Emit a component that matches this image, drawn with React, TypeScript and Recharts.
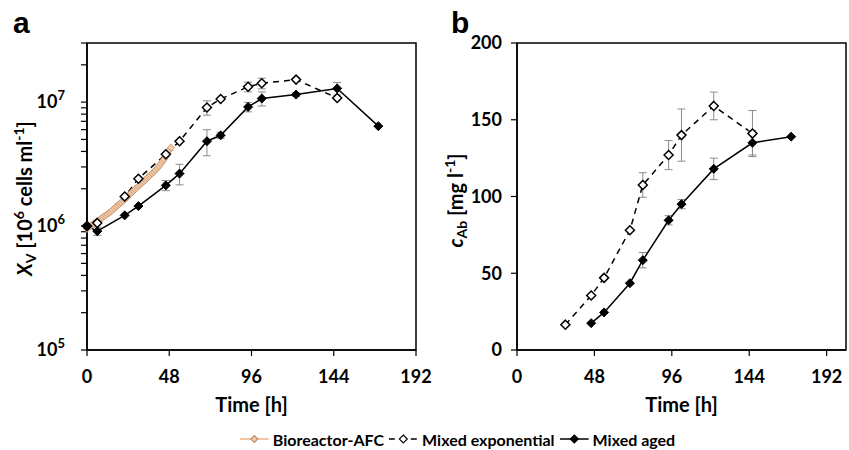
import React from 'react';
import { ErrorBar, Line, LineChart, ReferenceArea, XAxis, YAxis } from 'recharts';

// time axis [h]
const timeTicks = [0, 48, 96, 144, 192];

// panel a: viable cell density, in 10^6 cells/ml
const afcTime = [
  0, 1, 2, 3, 4, 5, 6, 7, 8, 9, 10, 11, 12, 13, 14, 15, 16, 17, 18, 19, 20, 21, 22, 23, 24, 25,
  26, 27, 28, 29, 30, 31, 32, 33, 34, 35, 36, 37, 38, 39, 40, 41, 42, 43, 44, 45, 46, 47, 48, 49,
];
const afcXv = [
  0.95, 0.98, 1.0, 1.03, 1.05, 1.07, 1.09, 1.11, 1.14, 1.17, 1.2, 1.22, 1.25, 1.28, 1.31, 1.35,
  1.39, 1.43, 1.47, 1.51, 1.55, 1.6, 1.64, 1.69, 1.75, 1.8, 1.86, 1.92, 1.98, 2.04, 2.1, 2.16,
  2.22, 2.29, 2.36, 2.43, 2.5, 2.58, 2.66, 2.74, 2.83, 2.93, 3.05, 3.18, 3.32, 3.47, 3.63, 3.85,
  4.1, 4.3,
];

const expTimeA = [0, 6, 22, 30, 46, 54, 70, 78, 94, 102, 122, 146];
const expXv = [1.0, 1.06, 1.73, 2.41, 3.8, 4.83, 9.05, 10.6, 13.3, 14.2, 15.2, 10.8];
const expXvErr = [0, 0, 0, 0, 0, 0, 1.2, 0, 1.2, 1.4, 0.4, 0];

const agedTimeA = [0, 6, 22, 30, 46, 54, 70, 78, 94, 102, 122, 146, 170];
const agedXv = [1.0, 0.91, 1.22, 1.45, 2.13, 2.65, 4.84, 5.4, 9.15, 10.7, 11.5, 12.9, 6.4];
const agedXvErr = [0, 0.07, 0, 0, 0.2, 0.5, 1.15, 0.3, 0.8, 1.4, 0.4, 1.5, 0];

const xvTicks = [
  1e5, 2e5, 3e5, 4e5, 5e5, 6e5, 7e5, 8e5, 9e5,
  1e6, 2e6, 3e6, 4e6, 5e6, 6e6, 7e6, 8e6, 9e6,
  1e7, 2e7, 3e7,
];

// panel b: antibody concentration [mg/l]
const expTimeB = [30, 46, 54, 70, 78, 94, 102, 122, 146];
const expCab = [16.5, 35.5, 47, 78, 107.5, 127, 140, 159, 141];
const expCabErr = [0, 0, 0, 0, 8, 9.5, 17, 9, 15];

const agedTimeB = [46, 54, 70, 78, 94, 102, 122, 146, 170];
const agedCab = [17.5, 24.5, 43.5, 58.5, 84.5, 95, 118, 135, 139];
const agedCabErr = [0, 0, 0, 5, 3, 3, 7, 8, 0];

const cabTicks = [0, 50, 100, 150, 200];

const FONT = 'Lato, "Open Sans", sans-serif';
const AFC_LINE = '#F4B183';
const AFC_FILL = '#F6C9A4';
const AFC_EDGE = '#B98E68';
const ERR = '#8C8C8C';

const toRows = (t: number[], v: number[], e: number[] | null, k = 1) =>
  t.map((time, i) => ({ time, value: v[i] * k, err: e ? e[i] * k : 0 }));

const afcRows = toRows(afcTime, afcXv, null, 1e6);
const expRowsA = toRows(expTimeA, expXv, expXvErr, 1e6);
const agedRowsA = toRows(agedTimeA, agedXv, agedXvErr, 1e6);
const expRowsB = toRows(expTimeB, expCab, expCabErr);
const agedRowsB = toRows(agedTimeB, agedCab, agedCabErr);

const diamond = (fill: string, stroke: string, r: number, sw: number) => (props: any) => {
  const { cx, cy, index } = props;
  if (cx == null || cy == null) return <g key={`d-${index}`} />;
  return (
    <path
      key={`d-${index}`}
      d={`M${cx},${cy - r} L${cx + r},${cy} L${cx},${cy + r} L${cx - r},${cy} Z`}
      fill={fill}
      stroke={stroke}
      strokeWidth={sw}
    />
  );
};

const tickStyle = { fontSize: 18, fontWeight: 700, fill: '#000', fontFamily: FONT };
const axisLine = { stroke: '#000', strokeWidth: 1.5 };
const tickLine = { stroke: '#000', strokeWidth: 1.2 };

const LogTick = (props: any) => {
  const { x, y, payload } = props;
  const v = payload.value;
  const e = Math.round(Math.log10(v));
  if (Math.abs(v / Math.pow(10, e) - 1) > 1e-6) return <g />;
  return (
    <text x={x} y={y} dy={6} textAnchor="end" {...tickStyle}>
      10
      <tspan dy={-8} fontSize={13}>
        {e}
      </tspan>
    </text>
  );
};

const XvTitle = ({ viewBox }: any) => {
  const cx = viewBox.x + 5;
  const cy = viewBox.y + viewBox.height / 2 + 2;
  return (
    <text
      x={cx}
      y={cy}
      transform={`rotate(-90, ${cx}, ${cy})`}
      textAnchor="middle"
      fontFamily={FONT}
      fontWeight={700}
      fontSize={20}
      fill="#000"
    >
      <tspan fontStyle="italic">X</tspan>
      <tspan fontSize={14} dy={4}>V</tspan>
      <tspan dy={-4}> [10</tspan>
      <tspan fontSize={14} dy={-8}>6</tspan>
      <tspan dy={8}>{'  cells ml'}</tspan>
      <tspan fontSize={14} dy={-8}>-1</tspan>
      <tspan dy={8}>]</tspan>
    </text>
  );
};

const CabTitle = ({ viewBox }: any) => {
  const cx = viewBox.x + 6;
  const cy = viewBox.y + viewBox.height / 2 + 4;
  return (
    <text
      x={cx}
      y={cy}
      transform={`rotate(-90, ${cx}, ${cy})`}
      textAnchor="middle"
      fontFamily={FONT}
      fontWeight={700}
      fontSize={20}
      fill="#000"
    >
      <tspan fontStyle="italic">c</tspan>
      <tspan fontSize={14} dy={4}>Ab</tspan>
      <tspan dy={-4}> [mg l</tspan>
      <tspan fontSize={14} dy={-8}>-1</tspan>
      <tspan dy={8}>]</tspan>
    </text>
  );
};

const timeLabel = {
  value: 'Time [h]',
  position: 'insideBottom' as const,
  offset: 3,
  style: { fontSize: 20, fontWeight: 700, fill: '#000', fontFamily: FONT },
};

const margin = { top: 43, right: 29, bottom: 5, left: 27 };

function PanelA() {
  return (
    <LineChart width={445} height={420} margin={margin}>
      <XAxis
        dataKey="time"
        type="number"
        domain={[0, 192]}
        ticks={timeTicks}
        interval={0}
        allowDuplicatedCategory={false}
        height={65}
        tickSize={6}
        tickMargin={14}
        tick={tickStyle}
        axisLine={axisLine}
        tickLine={tickLine}
        label={timeLabel}
      />
      <YAxis
        type="number"
        scale="log"
        domain={[1e5, 3e7]}
        allowDataOverflow
        ticks={xvTicks}
        interval={0}
        width={60}
        tickSize={6}
        tickMargin={16}
        tick={<LogTick />}
        axisLine={axisLine}
        tickLine={tickLine}
        label={<XvTitle />}
      />
      <ReferenceArea x1={0} x2={192} y1={1e5} y2={3e7} fill="none" stroke="#000" strokeWidth={1.5} ifOverflow="visible" />
      <Line
        data={afcRows}
        dataKey="value"
        stroke={AFC_LINE}
        strokeWidth={2}
        dot={diamond(AFC_FILL, AFC_EDGE, 3.6, 0.7)}
        isAnimationActive={false}
      />
      <Line
        data={expRowsA}
        dataKey="value"
        stroke="#000"
        strokeWidth={1.5}
        strokeDasharray="6 5"
        dot={diamond('#fff', '#000', 4.5, 1.5)}
        isAnimationActive={false}
      >
        <ErrorBar dataKey="err" direction="y" width={4} stroke={ERR} strokeWidth={1} />
      </Line>
      <Line
        data={agedRowsA}
        dataKey="value"
        stroke="#000"
        strokeWidth={1.5}
        dot={diamond('#000', '#000', 4.5, 1)}
        isAnimationActive={false}
      >
        <ErrorBar dataKey="err" direction="y" width={4} stroke={ERR} strokeWidth={1} />
      </Line>
    </LineChart>
  );
}

function PanelB() {
  return (
    <LineChart width={419} height={420} margin={{ ...margin, right: 3 }}>
      <XAxis
        dataKey="time"
        type="number"
        domain={[0, 204]}
        ticks={timeTicks}
        interval={0}
        allowDuplicatedCategory={false}
        height={65}
        tickSize={6}
        tickMargin={14}
        tick={tickStyle}
        axisLine={axisLine}
        tickLine={tickLine}
        label={timeLabel}
      />
      <YAxis
        type="number"
        domain={[0, 200]}
        ticks={cabTicks}
        interval={0}
        width={60}
        tickSize={6}
        tickMargin={9}
        tick={tickStyle}
        axisLine={axisLine}
        tickLine={tickLine}
        label={<CabTitle />}
      />
      <ReferenceArea x1={0} x2={204} y1={0} y2={200} fill="none" stroke="#000" strokeWidth={1.5} ifOverflow="visible" />
      <Line
        data={expRowsB}
        dataKey="value"
        stroke="#000"
        strokeWidth={1.5}
        strokeDasharray="6 5"
        dot={diamond('#fff', '#000', 4.5, 1.5)}
        isAnimationActive={false}
      >
        <ErrorBar dataKey="err" direction="y" width={4} stroke={ERR} strokeWidth={1} />
      </Line>
      <Line
        data={agedRowsB}
        dataKey="value"
        stroke="#000"
        strokeWidth={1.5}
        dot={diamond('#000', '#000', 4.5, 1)}
        isAnimationActive={false}
      >
        <ErrorBar dataKey="err" direction="y" width={4} stroke={ERR} strokeWidth={1} />
      </Line>
    </LineChart>
  );
}

const legendItems = [
  { name: 'Bioreactor-AFC', line: AFC_LINE, dash: undefined, fill: AFC_FILL, edge: AFC_EDGE, r: 3.5 },
  { name: 'Mixed exponential', line: '#000', dash: '6 16', fill: '#fff', edge: '#000', r: 4 },
  { name: 'Mixed aged', line: '#000', dash: undefined, fill: '#000', edge: '#000', r: 4 },
];

function Legend() {
  return (
    <div
      style={{
        position: 'absolute',
        left: 460,
        top: 429,
        transform: 'translateX(-50%)',
        display: 'flex',
        alignItems: 'center',
        whiteSpace: 'nowrap',
        fontFamily: FONT,
        fontWeight: 700,
        fontSize: 16,
        color: '#000',
      }}
    >
      {legendItems.map((it) => (
        <div key={it.name} style={{ display: 'flex', alignItems: 'center', marginRight: 5 }}>
          <svg width={29} height={20} style={{ marginRight: 4 }}>
            <line x1={0} x2={29} y1={10} y2={10} stroke={it.line} strokeWidth={1.5} strokeDasharray={it.dash} />
            <path
              d={`M14.5,${10 - it.r} L${14.5 + it.r},10 L14.5,${10 + it.r} L${14.5 - it.r},10 Z`}
              fill={it.fill}
              stroke={it.edge}
              strokeWidth={1.1}
            />
          </svg>
          <span>{it.name}</span>
        </div>
      ))}
    </div>
  );
}

export default function App() {
  return (
    <div style={{ position: 'absolute', left: 0, top: 0, width: 849, height: 450, background: '#fff' }}>
      <div style={{ position: 'absolute', left: 0, top: 0 }}>
        <PanelA />
      </div>
      <div style={{ position: 'absolute', left: 430, top: 0 }}>
        <PanelB />
      </div>
      <svg width={849} height={60} style={{ position: 'absolute', left: 0, top: 0 }}>
        <text x={13} y={33} fontFamily='"Liberation Sans", Arial, sans-serif' fontWeight={700} fontSize={30}>a</text>
        <text x={451} y={33} fontFamily='"Liberation Sans", Arial, sans-serif' fontWeight={700} fontSize={30}>b</text>
      </svg>
      <Legend />
    </div>
  );
}
